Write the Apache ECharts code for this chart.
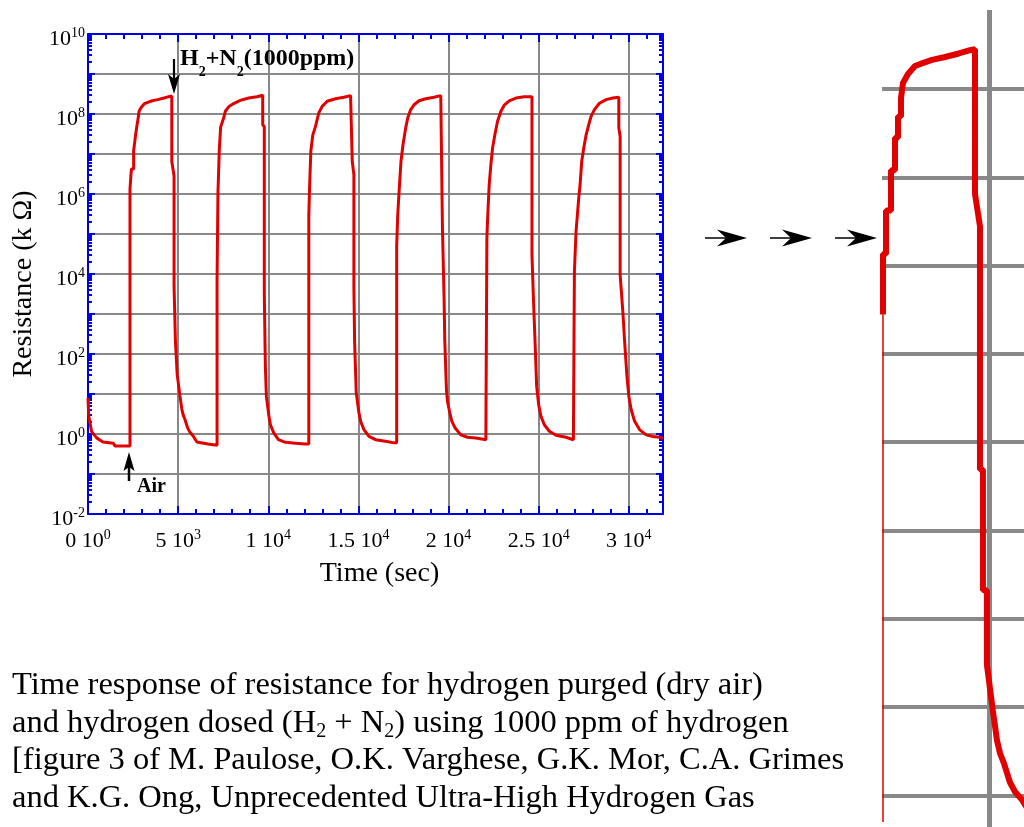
<!DOCTYPE html>
<html>
<head>
<meta charset="utf-8">
<script src="https://cdn.jsdelivr.net/npm/echarts@6/dist/echarts.min.js"></script>
<style>
  html, body { margin: 0; padding: 0; background: #fff; }
  #main { width: 1024px; height: 827px; }
</style>
</head>
<body>
<div id="main"></div>
<script>
// sensor trace: time (s) and resistance (kΩ), one cycle per block
const timeSec = [
  0, 40, 200, 480, 830, 1400, 1500, 2330,
  2330, 2330, 2406, 2406, 2532, 2532, 2633, 2633, 2708, 2708, 2784, 2784, 2834, 2834,
  2960, 3137, 3313, 3565, 3868, 4221, 4523, 4649,
  4649, 4775, 4775, 4850, 4850, 4950, 4950, 5100, 5204, 5280, 5380, 5532, 5658, 5835, 6042, 6650, 7160,
  // cycle 2
  7160, 7210, 7284, 7358, 7525, 7617, 7803, 8081, 8452, 8915, 9378, 9693,
  9693, 9780, 9780, 9840, 9897, 10027, 10120, 10305, 10564, 10953, 11509, 12065, 12250,
  // cycle 3
  12250, 12288, 12362, 12473, 12621, 12732, 12806, 12992, 13270, 13733, 14196, 14567, 14660,
  14660, 14752, 14752, 14790, 14882, 15030, 15123, 15308, 15586, 15957, 16513, 16976, 17125,
  // cycle 4
  17125, 17180, 17254, 17365, 17476, 17625, 17736, 17903, 18088, 18366, 18737, 19200, 19571, 19664,
  19664, 19756, 19794, 19886, 19942, 20072, 20183, 20368, 20683, 21054, 21517, 22073, 22129,
  // cycle 5
  22129, 22184, 22258, 22351, 22444, 22592, 22722, 22907, 23092, 23370, 23741, 24204, 24631,
  24631, 24724, 24798, 24891, 25002, 25131, 25316, 25594, 25965, 26521, 26929, 26985,
  // cycle 6
  26985, 27077, 27151, 27225, 27299, 27392, 27503, 27633, 27781, 27911, 28096, 28374, 28745, 29116, 29449,
  29449, 29523, 29523, 29671, 29764, 29894, 30005, 30134, 30320, 30597, 30968, 31342, 31708, 31900
];
const resistanceKOhm = [
  8.0, 2.8, 1.15, 0.8, 0.63, 0.59, 0.5, 0.5,
  2.8e5, 1.35e6, 1.35e6, 4.2e6, 4.2e6, 1.2e7, 1.2e7, 2.8e7, 2.8e7, 4.9e7, 4.9e7, 7.9e7, 7.9e7, 1.17e8,
  1.48e8, 1.82e8, 1.95e8, 2.14e8, 2.29e8, 2.51e8, 2.75e8, 2.82e8,
  6.5e6, 2.8e6, 4.9e3, 4.9e3, 210, 210, 30, 9.1, 4.2, 3.0, 2.3, 1.4, 1.1, 0.89, 0.63, 0.56, 0.52,
  // cycle 2
  7.2e3, 1.05e6, 1.26e7, 4.7e7, 7.9e7, 1.17e8, 1.51e8, 1.82e8, 2.19e8, 2.51e8, 2.69e8, 2.95e8,
  5.4e7, 4.8e7, 3.4e3, 49, 8.7, 3.0, 1.7, 1.07, 0.72, 0.62, 0.59, 0.56, 0.56,
  // cycle 3
  2.8e5, 1.26e6, 1.17e7, 3.0e7, 4.9e7, 7.9e7, 1.07e8, 1.55e8, 2.09e8, 2.4e8, 2.63e8, 2.88e8, 2.88e8,
  6.6e6, 3.0e6, 4.5e3, 210, 10.7, 3.4, 2.1, 1.29, 0.87, 0.72, 0.66, 0.6, 0.6,
  // cycle 4
  4.9e4, 2.75e5, 1.07e6, 6.6e6, 1.7e7, 4.5e7, 7.9e7, 1.29e8, 1.7e8, 2.14e8, 2.4e8, 2.63e8, 2.88e8, 2.88e8,
  1.41e5, 2.3e3, 210, 12.9, 6.6, 3.4, 2.1, 1.41, 0.95, 0.83, 0.79, 0.72, 0.68,
  // cycle 5
  7.9e4, 3.4e5, 1.7e6, 5.4e6, 1.41e7, 3.4e7, 6.6e7, 1.17e8, 1.66e8, 2.14e8, 2.51e8, 2.69e8, 2.69e8,
  3.0e4, 1.7e3, 230, 15.5, 5.4, 2.75, 1.7, 1.17, 0.93, 0.83, 0.72, 0.68,
  // cycle 6
  1.17e4, 1.17e5, 3.0e5, 7.9e5, 1.7e6, 6.6e6, 1.41e7, 3.0e7, 5.4e7, 8.7e7, 1.29e8, 1.86e8, 2.29e8, 2.51e8, 2.63e8,
  4.5e7, 2.75e7, 9.5e3, 1.17e3, 230, 30, 8.7, 4.1, 2.1, 1.29, 0.95, 0.87, 0.83, 0.78
];

const xTickMantissa = ["0", "5", "1", "1.5", "2", "2.5", "3"];
const xTickExponent = ["0", "3", "4", "4", "4", "4", "4"];
const yTickExponents = [-2, 0, 2, 4, 6, 8, 10];
const captionLines = [
  "{t|Time response of resistance for hydrogen purged (dry air)}",
  "{t|and hydrogen dosed (H}{s|2}{t| + N}{s|2}{t|) using 1000 ppm of hydrogen}",
  "{t|[figure 3 of M. Paulose, O.K. Varghese, G.K. Mor, C.A. Grimes}",
  "{t|and K.G. Ong, Unprecedented Ultra-High Hydrogen Gas}"
];

const serif = "'Liberation Serif', 'Times New Roman', serif";
const blue = "#0000e6";
const red = "#e00000";
const gray = "#888888";
const xMax = 31900;
const yMin = -2;
const yMax = 10;

// y is plotted as log10(R)
const trace = timeSec.map((t, i) => [t, Math.log10(resistanceKOhm[i])]);
const riseIdx = trace.findIndex(p => p[1] > 5);
const insetThick = trace.slice(riseIdx);
const insetThin = trace.slice(riseIdx - 1, riseIdx + 1);

const yMinorTicks = [];
for (let n = yMin; n < yMax; n++) {
  for (let k = 2; k <= 9; k++) yMinorTicks.push(n + Math.log10(k));
}
const xMinorTicks = [];
for (let t = 1000; t < xMax; t += 1000) {
  if (t % 5000) xMinorTicks.push(t);
}

const tickRich = {
  b: { fontFamily: serif, fontSize: 22, lineHeight: 26, color: "#000" },
  s: { fontFamily: serif, fontSize: 14, lineHeight: 13, verticalAlign: "top", color: "#000" }
};
const blueTick = (len, extra) => Object.assign({
  show: true, inside: true, length: len, lineStyle: { color: blue, width: 2 }
}, extra || {});
const noLine = { show: false, onZero: false };
const blueLine = { show: true, onZero: false, lineStyle: { color: blue, width: 2 } };

const chart = echarts.init(document.getElementById("main"));

const options = {
  animation: false,
  backgroundColor: "#fff",
  grid: [
    { left: 88, top: 34, width: 575, height: 480 },
    // magnified view of the first cycle, cut off by the right edge
    { left: 882, top: 10, width: 142, height: 817 }
  ],
  xAxis: [
    {
      type: "value", gridIndex: 0, position: "bottom", min: 0, max: xMax, interval: 5000,
      axisLine: blueLine,
      axisTick: blueTick(8),
      axisLabel: {
        margin: 14, showMaxLabel: false, rich: tickRich,
        formatter(v) {
          if (v % 5000) return "";
          const i = v / 5000;
          return `{b|${xTickMantissa[i]} 10}{s|${xTickExponent[i]}}`;
        }
      },
      splitLine: { show: true, lineStyle: { color: gray, width: 2 } },
      name: "Time (sec)", nameLocation: "middle", nameGap: 46,
      nameTextStyle: { fontFamily: serif, fontSize: 28, color: "#000", padding: [0, 0, 0, 8] }
    },
    {
      type: "value", gridIndex: 0, position: "bottom", min: 0, max: xMax,
      axisLine: noLine, axisLabel: { show: false }, splitLine: { show: false },
      axisTick: blueTick(5, { customValues: xMinorTicks })
    },
    {
      type: "value", gridIndex: 0, position: "top", min: 0, max: xMax, interval: 5000,
      axisLine: blueLine,
      axisTick: blueTick(8), axisLabel: { show: false }, splitLine: { show: false }
    },
    {
      type: "value", gridIndex: 0, position: "top", min: 0, max: xMax,
      axisLine: noLine, axisLabel: { show: false }, splitLine: { show: false },
      axisTick: blueTick(5, { customValues: xMinorTicks })
    },
    {
      type: "value", gridIndex: 1, min: 2305, max: 5885,
      axisLine: noLine, axisTick: { show: false }, axisLabel: { show: false }, splitLine: { show: false }
    }
  ],
  yAxis: [
    {
      type: "value", gridIndex: 0, position: "left", min: yMin, max: yMax, interval: 1,
      axisLine: blueLine,
      axisTick: blueTick(7),
      axisLabel: {
        margin: 3, padding: [10, 0, 0, 0], rich: tickRich,
        formatter(v) {
          return yTickExponents.includes(v) ? `{b|10}{s|${v}}` : "";
        }
      },
      splitLine: { show: true, lineStyle: { color: gray, width: 2 } },
      name: "Resistance (k Ω)", nameLocation: "middle", nameGap: 49,
      nameTextStyle: { fontFamily: serif, fontSize: 28, color: "#000", padding: [0, 20, 0, 0] }
    },
    {
      type: "value", gridIndex: 0, position: "left", min: yMin, max: yMax,
      axisLine: noLine, axisLabel: { show: false }, splitLine: { show: false },
      axisTick: blueTick(4, { customValues: yMinorTicks })
    },
    {
      type: "value", gridIndex: 0, position: "right", min: yMin, max: yMax, interval: 1,
      axisLine: blueLine,
      axisTick: blueTick(7), axisLabel: { show: false }, splitLine: { show: false }
    },
    {
      type: "value", gridIndex: 0, position: "right", min: yMin, max: yMax,
      axisLine: noLine, axisLabel: { show: false }, splitLine: { show: false },
      axisTick: blueTick(4, { customValues: yMinorTicks })
    },
    {
      type: "value", gridIndex: 1, min: -0.358, max: 8.895, minInterval: 1, maxInterval: 1,
      axisLine: noLine, axisTick: { show: false }, axisLabel: { show: false },
      splitLine: { show: true, showMinLine: false, showMaxLine: false, lineStyle: { color: gray, width: 4 } }
    }
  ],
  series: [
    {
      type: "line", xAxisIndex: 0, yAxisIndex: 0, data: trace,
      symbol: "none", color: red, lineStyle: { color: red, width: 3 }, z: 3
    },
    {
      type: "line", xAxisIndex: 4, yAxisIndex: 4, data: insetThin,
      symbol: "none", color: red, lineStyle: { color: red, width: 1.5 }, z: 2,
      markLine: {
        silent: true, symbol: "none", label: { show: false }, z: 1,
        lineStyle: { color: gray, width: 5, type: "solid" },
        data: [{ xAxis: 5000 }]
      }
    },
    {
      type: "line", xAxisIndex: 4, yAxisIndex: 4, data: insetThick,
      symbol: "none", color: red, lineStyle: { color: red, width: 6 }, z: 6
    }
  ],
  graphic: []
};

// annotation arrows
const black = "#000";
const g = options.graphic;
// H2+N2 arrow (down)
g.push({ type: "line", shape: { x1: 174, y1: 59, x2: 174, y2: 82 }, style: { stroke: black, lineWidth: 2.2 }, z: 10 });
g.push({ type: "polygon", shape: { points: [[174, 94], [168, 74], [174, 79], [180, 74]] }, style: { fill: black }, z: 10 });
// Air arrow (up)
g.push({ type: "line", shape: { x1: 129, y1: 466, x2: 129, y2: 481 }, style: { stroke: black, lineWidth: 2.5 }, z: 10 });
g.push({ type: "polygon", shape: { points: [[129, 452], [123.5, 471], [129, 467], [134.5, 471]] }, style: { fill: black }, z: 10 });
// inset arrows
[747, 812, 877].forEach(tip => {
  const y = 238;
  g.push({ type: "line", shape: { x1: tip - 42, y1: y, x2: tip - 20, y2: y }, style: { stroke: black, lineWidth: 1.5 }, z: 10 });
  g.push({ type: "polygon", shape: { points: [[tip, y], [tip - 30, y - 8.5], [tip - 21, y], [tip - 30, y + 8.5]] }, style: { fill: black }, z: 10 });
});

g.push({
  type: "text", x: 180, y: 59, z: 10,
  style: {
    text: "{b|H}{s|2}{b|+N}{s|2}{b|(1000ppm)}",
    verticalAlign: "middle",
    rich: {
      b: { fontFamily: serif, fontWeight: "bold", fontSize: 24, lineHeight: 40, fill: black },
      s: { fontFamily: serif, fontWeight: "bold", fontSize: 14, lineHeight: 19, verticalAlign: "bottom", fill: black }
    }
  }
});
g.push({
  type: "text", x: 137, y: 487, z: 10,
  style: { text: "Air", verticalAlign: "middle", font: `bold 20px ${serif}`, fill: black }
});
g.push({
  type: "text", x: 12, y: 667, z: 10,
  style: {
    text: captionLines.join("\n"),
    verticalAlign: "top",
    rich: {
      t: { fontFamily: serif, fontSize: 32.5, lineHeight: 37.5, fill: black },
      s: { fontFamily: serif, fontSize: 20, lineHeight: 24, verticalAlign: "bottom", fill: black }
    }
  }
});

chart.setOption(options);
</script>
</body>
</html>
